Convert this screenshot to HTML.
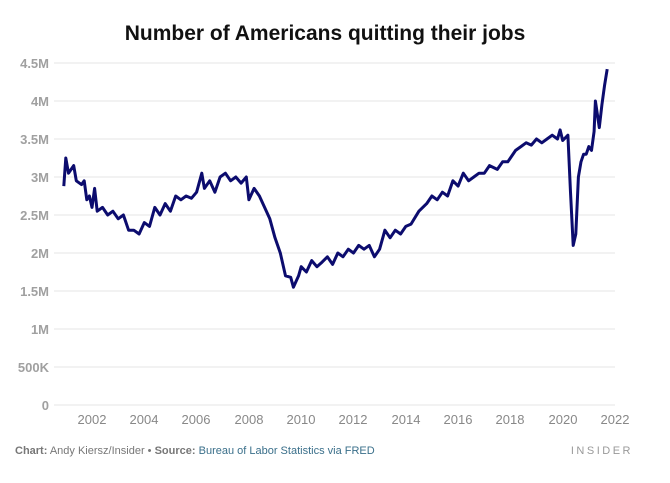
<!DOCTYPE html>
<html><head><meta charset="utf-8"><style>
body{margin:0;background:#fff;width:670px;height:478px;overflow:hidden;font-family:"Liberation Sans",sans-serif}
</style></head><body>
<svg width="670" height="478" xmlns="http://www.w3.org/2000/svg">
<text x="325" y="40" text-anchor="middle" font-size="21" font-weight="bold" fill="#111">Number of Americans quitting their jobs</text>
<g stroke="#e4e4e4" stroke-width="1">
<line x1="54" x2="615" y1="63" y2="63"/><line x1="54" x2="615" y1="101" y2="101"/><line x1="54" x2="615" y1="139" y2="139"/><line x1="54" x2="615" y1="177" y2="177"/><line x1="54" x2="615" y1="215" y2="215"/><line x1="54" x2="615" y1="253" y2="253"/><line x1="54" x2="615" y1="291" y2="291"/><line x1="54" x2="615" y1="329" y2="329"/><line x1="54" x2="615" y1="367" y2="367"/><line x1="54" x2="615" y1="405" y2="405"/>
</g>
<g font-size="13" font-weight="bold" fill="#a0a0a0" text-anchor="end">
<text x="49" y="68">4.5M</text><text x="49" y="106">4M</text><text x="49" y="144">3.5M</text><text x="49" y="182">3M</text><text x="49" y="220">2.5M</text><text x="49" y="258">2M</text><text x="49" y="296">1.5M</text><text x="49" y="334">1M</text><text x="49" y="372">500K</text><text x="49" y="410">0</text>
</g>
<g font-size="13" fill="#888" text-anchor="middle">
<text x="92" y="424">2002</text><text x="144" y="424">2004</text><text x="196" y="424">2006</text><text x="249" y="424">2008</text><text x="301" y="424">2010</text><text x="353" y="424">2012</text><text x="406" y="424">2014</text><text x="458" y="424">2016</text><text x="510" y="424">2018</text><text x="563" y="424">2020</text><text x="615" y="424">2022</text>
</g>
<path id="ln" fill="none" stroke="#0c0c6e" stroke-width="3" stroke-linejoin="round"/>
<text x="15" y="454" font-size="11" fill="#777"><tspan font-weight="bold">Chart:</tspan> Andy Kiersz/Insider • <tspan font-weight="bold">Source:</tspan> <tspan fill="#3a6f8a">Bureau of Labor Statistics via FRED</tspan></text>
<text x="633" y="454" font-size="11" fill="#999" text-anchor="end" letter-spacing="2.5">INSIDER</text>
</svg>
<script>
var d=[2000.92,2.88,2001.0,3.25,2001.1,3.05,2001.2,3.1,2001.3,3.15,2001.4,2.95,2001.6,2.9,2001.7,2.95,2001.8,2.7,2001.9,2.75,2002.0,2.6,2002.1,2.85,2002.2,2.55,2002.4,2.6,2002.6,2.5,2002.8,2.55,2003.0,2.45,2003.2,2.5,2003.4,2.3,2003.6,2.3,2003.8,2.25,2004.0,2.4,2004.2,2.35,2004.4,2.6,2004.6,2.5,2004.8,2.65,2005.0,2.55,2005.2,2.75,2005.4,2.7,2005.6,2.75,2005.8,2.72,2006.0,2.8,2006.2,3.05,2006.3,2.85,2006.5,2.95,2006.7,2.8,2006.9,3.0,2007.1,3.05,2007.3,2.95,2007.5,3.0,2007.7,2.92,2007.9,3.0,2008.0,2.7,2008.2,2.85,2008.4,2.75,2008.6,2.6,2008.8,2.45,2009.0,2.2,2009.2,2.0,2009.4,1.7,2009.6,1.68,2009.7,1.55,2009.9,1.7,2010.0,1.82,2010.2,1.75,2010.4,1.9,2010.6,1.82,2010.8,1.88,2011.0,1.95,2011.2,1.85,2011.4,2.0,2011.6,1.95,2011.8,2.05,2012.0,2.0,2012.2,2.1,2012.4,2.05,2012.6,2.1,2012.8,1.95,2013.0,2.05,2013.2,2.3,2013.4,2.2,2013.6,2.3,2013.8,2.25,2014.0,2.35,2014.2,2.38,2014.5,2.55,2014.8,2.65,2015.0,2.75,2015.2,2.7,2015.4,2.8,2015.6,2.75,2015.8,2.95,2016.0,2.88,2016.2,3.05,2016.4,2.95,2016.6,3.0,2016.8,3.05,2017.0,3.05,2017.2,3.15,2017.5,3.1,2017.7,3.2,2017.9,3.2,2018.0,3.25,2018.2,3.35,2018.4,3.4,2018.6,3.45,2018.8,3.42,2019.0,3.5,2019.2,3.45,2019.4,3.5,2019.6,3.55,2019.8,3.5,2019.9,3.62,2020.0,3.48,2020.2,3.55,2020.3,2.8,2020.4,2.1,2020.5,2.25,2020.6,3.0,2020.7,3.2,2020.8,3.3,2020.9,3.3,2021.0,3.4,2021.1,3.35,2021.2,3.6,2021.25,4.0,2021.4,3.65,2021.5,3.95,2021.6,4.2,2021.7,4.42];
var s="";for(var i=0;i<d.length;i+=2){s+=(i?"L":"M")+(92+(d[i]-2002)*26.15).toFixed(1)+","+(405-d[i+1]*76).toFixed(1);}
document.getElementById("ln").setAttribute("d",s);
</script>
</body></html>
